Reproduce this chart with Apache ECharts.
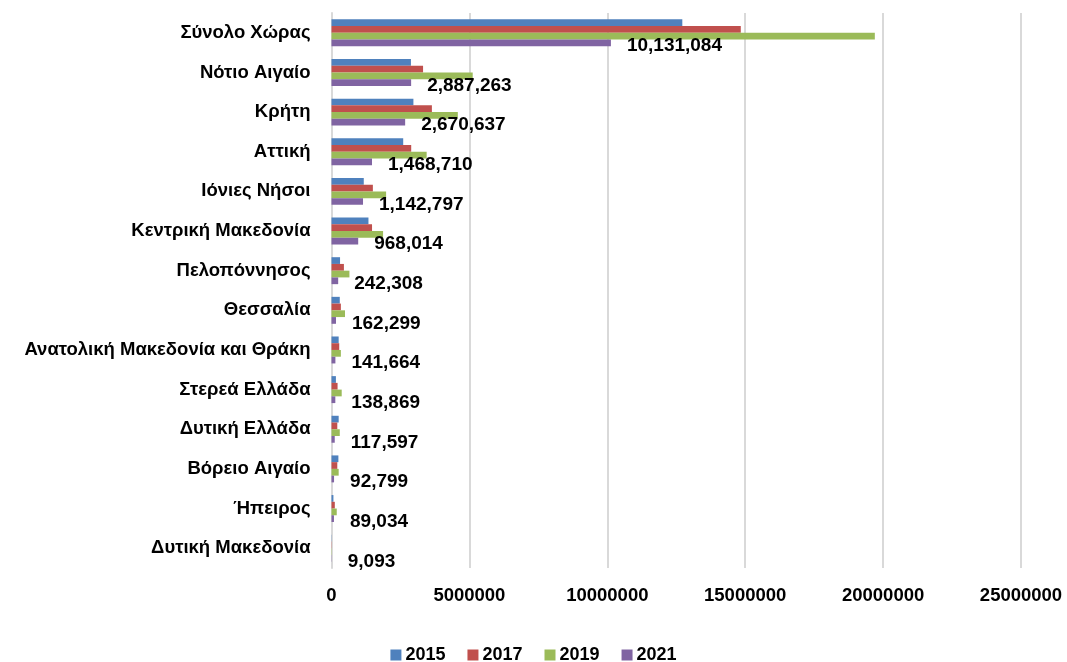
<!DOCTYPE html>
<html>
<head>
<meta charset="utf-8">
<script src="https://cdn.jsdelivr.net/npm/echarts@6/dist/echarts.min.js"></script>
<style>
html,body{margin:0;padding:0;background:#fff;}
#chart{width:1067px;height:662px;}
</style>
</head>
<body>
<div id="chart"></div>
<script>
const categories = ["Σύνολο Χώρας","Νότιο Αιγαίο","Κρήτη","Αττική","Ιόνιες Νήσοι","Κεντρική Μακεδονία","Πελοπόννησος","Θεσσαλία","Ανατολική Μακεδονία και Θράκη","Στερεά Ελλάδα","Δυτική Ελλάδα","Βόρειο Αιγαίο","Ήπειρος","Δυτική Μακεδονία"];
const seriesNames = ["2015","2017","2019","2021"];
const values2015 = [12720000,2880000,2970000,2600000,1170000,1340000,310000,300000,260000,160000,260000,250000,70000,8000];
const values2017 = [14840000,3320000,3640000,2890000,1500000,1470000,450000,340000,280000,220000,210000,210000,120000,9000];
const values2019 = [19700000,5120000,4580000,3450000,1980000,1870000,650000,490000,340000,370000,300000,260000,190000,11000];
const values2021 = [10131084,2887263,2670637,1468710,1142797,968014,242308,162299,141664,138869,117597,92799,89034,9093];
const xTicks = [0,5000000,10000000,15000000,20000000,25000000];
const colors = ["#4F81BD","#C0504D","#9BBB59","#8064A2"];

const FONT = '"Liberation Sans", Arial, sans-serif';
const allValues = [values2015, values2017, values2019, values2021];
const fmt = v => String(v).replace(/\B(?=(\d{3})+(?!\d))/g, ',');

const chart = echarts.init(document.getElementById('chart'), null, {renderer:'canvas'});
chart.setOption({
  animation:false,
  backgroundColor:'#fff',
  color:colors,
  textStyle:{fontFamily:FONT},
  grid:{left:331.5, right:46, top:13, bottom:94, containLabel:false},
  legend:{
    data:seriesNames, top:641, left:'center',
    itemWidth:11, itemHeight:11, itemGap:22, icon:'rect',
    textStyle:{fontFamily:FONT, fontWeight:'bold', fontSize:18, color:'#000', padding:[0,0,0,-1]}
  },
  xAxis:{
    type:'value', min:xTicks[0], max:xTicks[xTicks.length-1], interval:xTicks[1]-xTicks[0],
    axisLine:{show:false}, axisTick:{show:false},
    splitLine:{show:true, lineStyle:{color:'#D9D9D9', width:2}},
    axisLabel:{fontFamily:FONT, fontWeight:'bold', fontSize:18.5, color:'#000', margin:18,
      formatter: v => String(v)}
  },
  yAxis:{
    type:'category', data:categories, inverse:true,
    axisLine:{show:true, lineStyle:{color:'#D9D9D9', width:2}},
    axisTick:{show:false},
    axisLabel:{fontFamily:FONT, fontWeight:'bold', fontSize:18.5, color:'#000', margin:21}
  },
  series: seriesNames.map((n,i)=>({
    name:n, type:'bar', data:allValues[i],
    barGap:'0%', barCategoryGap:'32%',
    itemStyle:{color:colors[i]},
    label: i===3 ? {
      show:true, position:'right', distance:16, offset:[0,3],
      formatter: p => fmt(p.value),
      fontFamily:FONT, fontWeight:'bold', fontSize:19, color:'#000'
    } : {show:false}
  }))
});
</script>
</body>
</html>
